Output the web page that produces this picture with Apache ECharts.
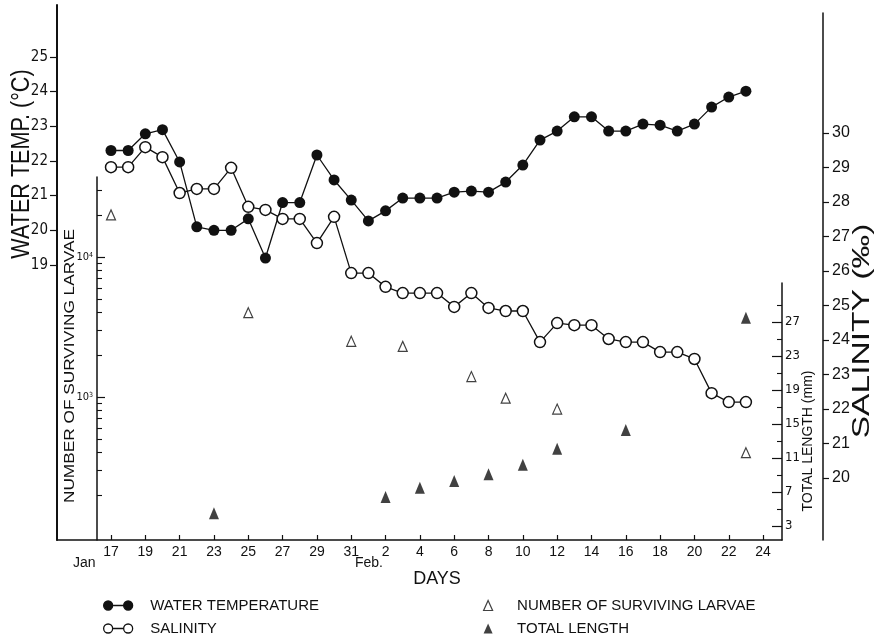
<!DOCTYPE html>
<html>
<head>
<meta charset="utf-8">
<script src="https://cdn.jsdelivr.net/npm/echarts@6/dist/echarts.min.js"></script>
<style>
  html, body { margin: 0; padding: 0; background: #fff; }
  #chart { width: 878px; height: 641px; }
</style>
</head>
<body>
<div id="chart"></div>
<script>
// days counted from Jan 0, so Feb 1 = 32
const sampleDays = [17, 18, 19, 20, 21, 22, 23, 24, 25, 26, 27, 28, 29, 30, 31,
  32, 33, 34, 35, 36, 37, 38, 39, 40, 41, 42, 43, 44, 45, 46, 47, 48, 49, 50, 51, 52, 53, 54]
const waterTemp = [22.3, 22.3, 22.78, 22.9, 21.97, 20.1, 20.0, 20.0, 20.33, 19.2, 20.8, 20.8, 22.17, 21.45, 20.87,
  20.27, 20.56, 20.93, 20.93, 20.93, 21.1, 21.13, 21.1, 21.39, 21.88, 22.6, 22.86, 23.27, 23.27, 22.86, 22.86,
  23.06, 23.03, 22.86, 23.06, 23.55, 23.84, 24.01]
const salinity = [29.01, 29.01, 29.59, 29.3, 28.26, 28.38, 28.38, 28.99, 27.86, 27.77, 27.51, 27.51, 26.81, 27.57, 25.94,
  25.94, 25.54, 25.36, 25.36, 25.36, 24.96, 25.36, 24.93, 24.84, 24.84, 23.94, 24.49, 24.43, 24.43, 24.03, 23.94,
  23.94, 23.65, 23.65, 23.45, 22.46, 22.2, 22.2]
const larvaeDays = [17, 25, 31, 34, 38, 40, 43, 54]
const larvaeCount = [20000, 4000, 2500, 2300, 1400, 980, 820, 400]
const lengthDays = [23, 33, 35, 37, 39, 41, 43, 47, 54]
const totalLength = [4.5, 6.4, 7.5, 8.3, 9.1, 10.2, 12.1, 14.3, 27.5]

const dayTicks = [17, 19, 21, 23, 25, 27, 29, 31, 33, 35, 37, 39, 41, 43, 45, 47, 49, 51, 53, 55]
const tempTicks = [19, 20, 21, 22, 23, 24, 25]
const salinityTicks = [20, 21, 22, 23, 24, 25, 26, 27, 28, 29, 30]
const lengthTicks = [3, 7, 11, 15, 19, 23, 27]
const lengthMinorTicks = [5, 9, 13, 17, 21, 25, 29]
const larvaeMajor = [1000, 10000]
const larvaeMinor = [200, 300, 400, 500, 600, 700, 800, 900,
  2000, 3000, 4000, 5000, 6000, 7000, 8000, 9000, 20000, 30000]

// page layout (pixels)
const W = 878, H = 641
const AXIS_Y = 540
const X17 = 111, PX_DAY = 17.16
const dayAt = px => 17 + (px - X17) / PX_DAY

const ink = '#111'
const plain = "'Liberation Sans', Arial, sans-serif"
const narrow = "'Liberation Sans Narrow', 'DejaVu Sans Condensed', 'Roboto Condensed', 'Liberation Sans', sans-serif"

function hiddenX(grid, left, right) {
  return { gridIndex: grid, type: 'value', show: false, min: dayAt(left), max: dayAt(right) }
}
const line = { show: true, lineStyle: { color: ink, width: 1.5 } }
const noSplit = { show: false }

const log10 = v => Math.log10(v)

const dotIcon = 'path://M0,4.5a4.5,4.5 0 1,0 9,0a4.5,4.5 0 1,0 -9,0zM9,4.5L20,4.5M20,4.5a4.5,4.5 0 1,0 9,0a4.5,4.5 0 1,0 -9,0z'
const triIcon = 'path://M4.5,0L9,10L0,10z'

function vText(x, y, text, font, scale) {
  return {
    type: 'text', x: x, y: y, rotation: Math.PI / 2, scaleX: scale || 1,
    style: { text: text, font: font, fill: ink, align: 'center', verticalAlign: 'middle' }
  }
}

const option = {
  animation: false,
  backgroundColor: '#fff',
  grid: [
    { left: 57, right: W - 782, top: 5, bottom: H - AXIS_Y },   // temperature + day axis
    { left: 97, right: W - 782, top: 177, bottom: H - AXIS_Y }, // larvae
    { left: 57, right: W - 782, top: 283, bottom: H - AXIS_Y }, // total length
    { left: 57, right: W - 823, top: 13, bottom: H - AXIS_Y }   // salinity
  ],
  xAxis: [
    {
      gridIndex: 0, type: 'value', min: dayAt(57), max: dayAt(782),
      axisLine: line,
      splitLine: noSplit,
      axisTick: { show: true, inside: true, length: 5, customValues: dayTicks, lineStyle: { color: ink, width: 1.2 } },
      axisLabel: {
        customValues: dayTicks, margin: 5, color: ink, fontSize: 14, fontFamily: plain,
        formatter: v => String(v > 31 ? v - 31 : v)
      }
    },
    hiddenX(1, 97, 782),
    hiddenX(2, 57, 782),
    hiddenX(3, 57, 823)
  ],
  yAxis: [
    {
      gridIndex: 0, type: 'value', position: 'left',
      min: 19 - (AXIS_Y - 265) / 34.7, max: 19 + (265 - 5) / 34.7,
      axisLine: { show: true, lineStyle: { color: ink, width: 2 } },
      splitLine: noSplit,
      axisTick: { show: true, length: 7, customValues: tempTicks, lineStyle: { color: ink, width: 1.2 } },
      axisLabel: { customValues: tempTicks, margin: 9, color: ink, fontSize: 15, fontFamily: narrow }
    },
    {
      gridIndex: 1, type: 'value', position: 'left',
      min: 3 - (AXIS_Y - 397) / 140, max: 4 + (257 - 177) / 140,
      axisLine: line,
      splitLine: noSplit,
      axisTick: { show: true, inside: true, length: 8, customValues: larvaeMajor.map(log10), lineStyle: { color: ink, width: 1.2 } },
      axisLabel: {
        customValues: larvaeMajor.map(log10), margin: 4, color: ink,
        formatter: v => '{b|10}{s|' + Math.round(v) + '}',
        rich: {
          b: { fontSize: 11, fontFamily: narrow, color: ink },
          s: { fontSize: 7, fontFamily: narrow, color: ink, verticalAlign: 'top' }
        }
      }
    },
    {
      gridIndex: 1, type: 'value', position: 'left',
      min: 3 - (AXIS_Y - 397) / 140, max: 4 + (257 - 177) / 140,
      axisLine: { show: false },
      splitLine: noSplit,
      axisTick: { show: true, inside: true, length: 5, customValues: larvaeMinor.map(log10), lineStyle: { color: ink, width: 1.1 } },
      axisLabel: { show: false }
    },
    {
      gridIndex: 2, type: 'value', position: 'right',
      min: 3 - (AXIS_Y - 526) / 8.5, max: 3 + (526 - 283) / 8.5,
      axisLine: line,
      splitLine: noSplit,
      axisTick: { show: true, inside: true, length: 10, customValues: lengthTicks, lineStyle: { color: ink, width: 1.2 } },
      axisLabel: { customValues: lengthTicks, margin: 3, color: ink, fontSize: 13, fontFamily: narrow }
    },
    {
      gridIndex: 2, type: 'value', position: 'right',
      min: 3 - (AXIS_Y - 526) / 8.5, max: 3 + (526 - 283) / 8.5,
      axisLine: { show: false },
      splitLine: noSplit,
      axisTick: { show: true, inside: true, length: 5, customValues: lengthMinorTicks, lineStyle: { color: ink, width: 1.1 } },
      axisLabel: { show: false }
    },
    {
      gridIndex: 3, type: 'value', position: 'right',
      min: 20 - (AXIS_Y - 478) / 34.5, max: 30 + (133 - 13) / 34.5,
      axisLine: line,
      splitLine: noSplit,
      axisTick: { show: true, length: 6, customValues: salinityTicks, lineStyle: { color: ink, width: 1.2 } },
      axisLabel: { customValues: salinityTicks, margin: 9, color: ink, fontSize: 16, fontFamily: plain }
    }
  ],
  legend: [
    {
      left: 98, top: 593, orient: 'vertical', itemWidth: 54, itemHeight: 9, itemGap: 8,
      selectedMode: false,
      textStyle: { color: ink, fontSize: 15, fontFamily: plain },
      data: [
        { name: 'WATER TEMPERATURE', icon: dotIcon, itemStyle: { color: ink, borderColor: ink, borderWidth: 1.3 } },
        { name: 'SALINITY', icon: dotIcon, itemStyle: { color: '#fff', borderColor: ink, borderWidth: 1.3 } }
      ]
    },
    {
      left: 478, top: 593, orient: 'vertical', itemWidth: 48, itemHeight: 10, itemGap: 8,
      selectedMode: false,
      textStyle: { color: ink, fontSize: 15, fontFamily: plain },
      data: [
        { name: 'NUMBER OF SURVIVING LARVAE', icon: triIcon, itemStyle: { color: '#fff', borderColor: ink, borderWidth: 1.2 } },
        { name: 'TOTAL LENGTH', icon: triIcon, itemStyle: { color: ink, borderColor: ink, borderWidth: 0 } }
      ]
    }
  ],
  series: [
    {
      name: 'WATER TEMPERATURE', type: 'line', xAxisIndex: 0, yAxisIndex: 0,
      data: sampleDays.map((d, i) => [d, waterTemp[i]]),
      symbol: 'circle', symbolSize: 11,
      lineStyle: { color: ink, width: 1.3 },
      itemStyle: { color: ink }
    },
    {
      name: 'SALINITY', type: 'line', xAxisIndex: 3, yAxisIndex: 5,
      data: sampleDays.map((d, i) => [d, salinity[i]]),
      symbol: 'circle', symbolSize: 11,
      lineStyle: { color: ink, width: 1.3 },
      itemStyle: { color: '#fff', borderColor: ink, borderWidth: 1.5 }
    },
    {
      name: 'NUMBER OF SURVIVING LARVAE', type: 'scatter', xAxisIndex: 1, yAxisIndex: 1,
      data: larvaeDays.map((d, i) => [d, log10(larvaeCount[i])]),
      symbol: 'triangle', symbolSize: [9, 10],
      itemStyle: { color: '#fff', borderColor: ink, borderWidth: 1.2 }
    },
    {
      name: 'TOTAL LENGTH', type: 'scatter', xAxisIndex: 2, yAxisIndex: 3,
      data: lengthDays.map((d, i) => [d, totalLength[i]]),
      symbol: 'triangle', symbolSize: [10, 12],
      itemStyle: { color: ink }
    }
  ],
  graphic: [
    vText(22, 164, 'WATER TEMP. (°C)', '26px ' + plain, 0.83),
    vText(70, 366, 'NUMBER OF SURVIVING LARVAE', '15px ' + plain, 1.15),
    vText(862, 331, 'SALINITY (‰)', '24px ' + plain, 1.4),
    vText(808, 441, 'TOTAL LENGTH (mm)', '14px ' + plain),
    { type: 'text', x: 73, y: 563,
      style: { text: 'Jan', font: '14px ' + plain, fill: ink, verticalAlign: 'middle' } },
    { type: 'text', x: 355, y: 563,
      style: { text: 'Feb.', font: '14px ' + plain, fill: ink, verticalAlign: 'middle' } },
    { type: 'text', x: 437, y: 579,
      style: { text: 'DAYS', font: '18px ' + plain, fill: ink, align: 'center', verticalAlign: 'middle' } }
  ]
}

const chart = echarts.init(document.getElementById('chart'))
chart.setOption(option)
</script>
</body>
</html>
